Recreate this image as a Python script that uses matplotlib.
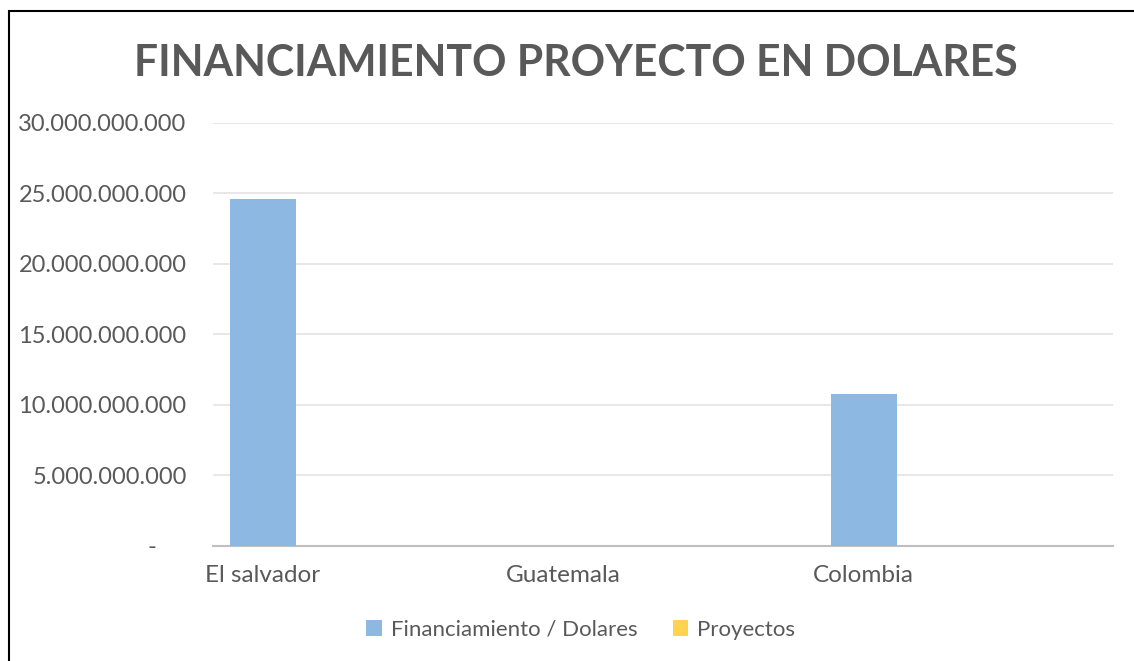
import matplotlib.pyplot as plt
import numpy as np
from matplotlib.patches import Rectangle

paises = ["El salvador", "Guatemala", "Colombia"]
financiamiento = [24600000000, 0, 10780000000]
proyectos = [1, 1, 1]
yticks = [0, 5e9, 10e9, 15e9, 20e9, 25e9, 30e9]

plt.rcParams['font.family'] = ['Lato', 'DejaVu Sans']
gris = "#595959"

fig = plt.figure(figsize=(11.34, 6.61), dpi=100)
ax = fig.add_axes([0.1878, 0.174, 0.7937, 0.640])

x = np.arange(len(paises))
w = 0.22
ax.bar(x, financiamiento, w, color="#8DB8E1", label="Financiamiento / Dolares", zorder=3)
ax.bar(x + w, proyectos, w, color="#FFD34F", label="Proyectos", zorder=3)

ax.set_xlim(-0.166, 2.83)
ax.set_ylim(0, 30e9)
ax.set_yticks(yticks)

def fmt(v):
    if v == 0:
        return "-     "
    return f"{int(v):,}".replace(",", ".")

ax.set_yticklabels([fmt(v) for v in yticks])
ax.set_xticks(x)
ax.set_xticklabels(paises)
ax.tick_params(axis='both', length=0, colors=gris)
ax.tick_params(axis='y', pad=19, labelsize=17)
ax.tick_params(axis='x', pad=14, labelsize=17.5)

ax.grid(axis='y', color="#E3E3E3", lw=1.2, zorder=0)
for s in ["top", "right", "left"]:
    ax.spines[s].set_visible(False)
ax.spines["bottom"].set_color("#BFBFBF")
ax.spines["bottom"].set_linewidth(1.5)

fig.text(0.508, 0.904, "FINANCIAMIENTO PROYECTO EN DOLARES", ha="center", va="center",
         fontsize=30.7, fontweight="bold", color=gris)

leg = fig.legend(loc="center", bbox_to_anchor=(0.512, 0.047), ncol=2, frameon=False,
                 fontsize=16, handlelength=0.7, handleheight=0.7, handletextpad=0.4,
                 columnspacing=1.6, labelcolor=gris)

fig.patches.append(Rectangle((9 / 1134, -0.05), 1.1, 1 - 11 / 661 + 0.05, transform=fig.transFigure,
                             fill=False, edgecolor="black", lw=1.5))

fig.savefig("out.png")
